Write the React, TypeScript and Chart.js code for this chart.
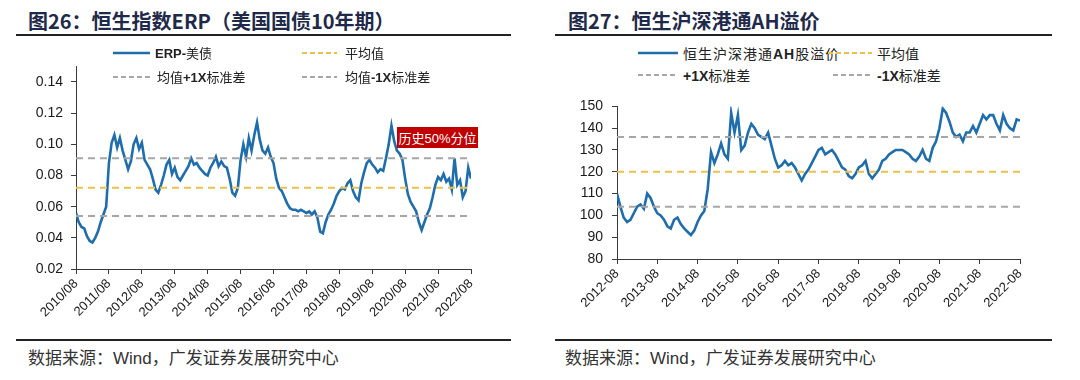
import React, { useEffect, useRef } from 'react';
import { Chart, registerables } from 'chart.js';

Chart.register(...registerables);

// ---------- Chart 26: HSI ERP (vs US 10Y) ----------
const erpTickLabels = [
  '2010/08', '2011/08', '2012/08', '2013/08', '2014/08', '2015/08', '2016/08',
  '2017/08', '2018/08', '2019/08', '2020/08', '2021/08', '2022/08',
];
const erpYTicks = [0.02, 0.04, 0.06, 0.08, 0.1, 0.12, 0.14];
// monthly values from 2010/08 to 2022/08
const erpValues = [
  0.056, 0.050, 0.047, 0.046, 0.041, 0.038, 0.037, 0.040, 0.044, 0.050, 0.055, 0.060,
  0.088, 0.101, 0.106, 0.098, 0.104, 0.096, 0.090, 0.084, 0.089, 0.100, 0.104, 0.097,
  0.101, 0.090, 0.087, 0.084, 0.078, 0.071, 0.069, 0.074, 0.080, 0.087, 0.090, 0.081,
  0.085, 0.079, 0.077, 0.080, 0.083, 0.086, 0.091, 0.087, 0.088, 0.085, 0.083, 0.081,
  0.080, 0.085, 0.088, 0.092, 0.086, 0.089, 0.086, 0.085, 0.078, 0.069, 0.067, 0.072,
  0.090, 0.100, 0.092, 0.104, 0.096, 0.106, 0.114, 0.103, 0.096, 0.094, 0.098, 0.092,
  0.088, 0.078, 0.072, 0.070, 0.066, 0.062, 0.059, 0.058, 0.058, 0.057, 0.058, 0.057,
  0.056, 0.057, 0.055, 0.057, 0.053, 0.044, 0.043, 0.050, 0.055, 0.058, 0.062, 0.067,
  0.070, 0.072, 0.071, 0.075, 0.077, 0.070, 0.066, 0.064, 0.075, 0.082, 0.088, 0.090,
  0.087, 0.085, 0.082, 0.084, 0.083, 0.091, 0.100, 0.112, 0.102, 0.096, 0.094, 0.090,
  0.078, 0.068, 0.063, 0.060, 0.057, 0.050, 0.045, 0.050, 0.055, 0.059, 0.066, 0.074,
  0.079, 0.077, 0.081, 0.076, 0.078, 0.071, 0.091, 0.074, 0.077, 0.066, 0.070, 0.085,
  0.078,
];
const erpMean = 0.0722;
const erpUpper = 0.091;
const erpLower = 0.054;

// ---------- Chart 27: Hang Seng Stock Connect AH premium ----------
const ahTickLabels = [
  '2012-08', '2013-08', '2014-08', '2015-08', '2016-08', '2017-08',
  '2018-08', '2019-08', '2020-08', '2021-08', '2022-08',
];
const ahYTicks = [80, 90, 100, 110, 120, 130, 140, 150];
// monthly values from 2012-08 to 2022-08
const ahValues = [
  110, 104, 99, 97, 98, 101, 104, 105, 103, 110, 108, 104,
  101, 100, 98, 95, 94, 98, 99, 96, 94, 92.5, 91, 93,
  97, 100, 102, 112, 129, 124, 128, 133, 128, 126, 147, 138,
  146, 130, 132, 138, 142, 140, 137, 136, 135, 138, 132, 126,
  122, 123, 125, 123, 124, 122, 119, 116, 119, 121, 124, 127,
  130, 131, 128, 129, 130, 128, 125, 122, 121, 118, 117, 119,
  122, 123, 125, 119, 117, 119, 121, 125, 126, 128, 129, 130,
  130, 130, 129, 128, 126, 125, 127, 130, 126, 125, 131, 134,
  140, 149, 147, 143, 138, 136, 137, 134, 138, 138, 141, 138,
  142, 146, 144, 146, 146, 142, 139, 146, 142, 140, 139, 144,
  143.5,
];
const ahMean = 120;
const ahUpper = 136;
const ahLower = 104;

const BLUE = '#1f6dab';
const YELLOW = '#e8c24c';
const GREY = '#a6a6a6';
const AXIS = '#3a3a3a';
const TICK_COLOR = '#1a1a1a';

type Cfg = {
  values: number[];
  tickLabels: string[];
  yTicks: number[];
  yMin: number;
  yMax: number;
  mean: number;
  upper: number;
  lower: number;
  yFmt: (v: number) => string;
  yWidth: number;
  yFont: number;
  yPad: number;
};

function buildConfig(c: Cfg): any {
  const n = c.values.length - 1;
  const hline = (y: number, color: string) => ({
    data: [
      { x: 0, y },
      { x: n, y },
    ],
    borderColor: color,
    borderWidth: 2,
    borderDash: [7, 5],
    pointRadius: 0,
    order: 0,
  });
  return {
    type: 'line',
    data: {
      datasets: [
        {
          data: c.values.map((v, i) => ({ x: i, y: v })),
          borderColor: BLUE,
          borderWidth: 2.6,
          pointRadius: 0,
          tension: 0,
          order: 5,
        },
        hline(c.upper, GREY),
        hline(c.mean, YELLOW),
        hline(c.lower, GREY),
      ],
    },
    options: {
      responsive: false,
      animation: false,
      layout: { padding: { top: 15, right: 14, left: 0, bottom: 0 } },
      plugins: { legend: { display: false }, tooltip: { enabled: false } },
      scales: {
        x: {
          type: 'linear',
          min: 0,
          max: n,
          afterBuildTicks: (s: any) => {
            s.ticks = c.tickLabels.map((_, k) => ({ value: k * 12 }));
          },
          afterFit: (s: any) => {
            s.height = 60;
          },
          ticks: {
            autoSkip: false,
            maxRotation: 45,
            minRotation: 45,
            padding: 2,
            color: TICK_COLOR,
            font: { family: '"Liberation Sans", Arial, sans-serif', size: 13 },
            callback: (_v: any, i: number) => c.tickLabels[i],
          },
          grid: {
            drawOnChartArea: false,
            drawTicks: true,
            tickLength: 5,
            color: AXIS,
          },
          border: { color: AXIS, width: 1 },
        },
        y: {
          min: c.yMin,
          max: c.yMax,
          afterBuildTicks: (s: any) => {
            s.ticks = c.yTicks.map((v) => ({ value: v }));
          },
          afterFit: (s: any) => {
            s.width = c.yWidth;
          },
          ticks: {
            padding: c.yPad,
            color: TICK_COLOR,
            font: { family: '"Liberation Sans", Arial, sans-serif', size: c.yFont },
            callback: (v: any) => c.yFmt(Number(v)),
          },
          grid: {
            drawOnChartArea: false,
            drawTicks: true,
            tickLength: 5,
            color: AXIS,
          },
          border: { color: AXIS, width: 1 },
        },
      },
    },
  };
}

function ChartCanvas({ cfg, left, top, width, height }: { cfg: Cfg; left: number; top: number; width: number; height: number }) {
  const ref = useRef<HTMLCanvasElement | null>(null);
  useEffect(() => {
    if (!ref.current) return;
    const chart = new Chart(ref.current, buildConfig(cfg));
    return () => chart.destroy();
  }, []);
  return (
    <canvas
      ref={ref}
      width={width}
      height={height}
      style={{ position: 'absolute', left, top, width, height }}
    />
  );
}

function Mixed({ text }: { text: string }) {
  const parts = text.split(/([A-Za-z0-9+\-%]+)/).filter((p) => p.length);
  return (
    <>
      {parts.map((p, i) =>
        /[A-Za-z0-9+\-%]/.test(p) ? (
          <span key={i} style={{ fontFamily: '"Liberation Sans", Arial, sans-serif', fontWeight: 700 }}>
            {p}
          </span>
        ) : (
          <span key={i} style={{ fontFamily: '"Noto Sans CJK SC", sans-serif', fontWeight: 400 }}>
            {p}
          </span>
        )
      )}
    </>
  );
}

function LegendItem({
  x1, x2, y, tx, color, dashed, label, size, spacing,
}: {
  x1: number; x2: number; y: number; tx: number; color: string; dashed: boolean; label: string; size: number; spacing?: number;
}) {
  return (
    <>
      <svg style={{ position: 'absolute', left: x1, top: y - 3, overflow: 'visible' }} width={x2 - x1} height={6}>
        <line
          x1={0}
          y1={3}
          x2={x2 - x1}
          y2={3}
          stroke={color}
          strokeWidth={dashed ? 2 : 2.5}
          strokeDasharray={dashed ? '5 3' : undefined}
        />
      </svg>
      <div
        style={{
          position: 'absolute',
          left: tx,
          top: y - 10,
          height: 20,
          lineHeight: '20px',
          fontSize: size,
          color: '#222',
          whiteSpace: 'nowrap',
          letterSpacing: spacing || 0,
        }}
      >
        <Mixed text={label} />
      </div>
    </>
  );
}

const titleStyle: React.CSSProperties = {
  position: 'absolute',
  top: 8,
  height: 26,
  lineHeight: '26px',
  fontFamily: '"Noto Sans CJK SC", sans-serif',
  fontWeight: 700,
  fontSize: 20,
  color: '#1f2a4a',
  whiteSpace: 'nowrap',
};

const footStyle: React.CSSProperties = {
  position: 'absolute',
  top: 346,
  height: 22,
  lineHeight: '22px',
  fontFamily: '"Noto Sans CJK SC", sans-serif',
  fontSize: 17,
  color: '#333',
  whiteSpace: 'nowrap',
};

export default function App() {
  const erpCfg: Cfg = {
    values: erpValues,
    tickLabels: erpTickLabels,
    yTicks: erpYTicks,
    yMin: 0.02,
    yMax: 0.15,
    mean: erpMean,
    upper: erpUpper,
    lower: erpLower,
    yFmt: (v) => v.toFixed(2),
    yWidth: 66,
    yFont: 14,
    yPad: 8,
  };
  const ahCfg: Cfg = {
    values: ahValues,
    tickLabels: ahTickLabels,
    yTicks: ahYTicks,
    yMin: 80,
    yMax: 150,
    mean: ahMean,
    upper: ahUpper,
    lower: ahLower,
    yFmt: (v) => String(Math.round(v)),
    yWidth: 67,
    yFont: 14,
    yPad: 9,
  };

  return (
    <div style={{ position: 'absolute', left: 0, top: 0, width: 1080, height: 380, background: '#fff', overflow: 'hidden' }}>
      {/* Left panel */}
      <div style={{ ...titleStyle, left: 28 }}>图26：恒生指数ERP（美国国债10年期）</div>
      <div style={{ position: 'absolute', left: 16, top: 34, width: 495, height: 2, background: '#222' }} />
      <ChartCanvas cfg={erpCfg} left={10} top={50} width={475} height={279} />
      <LegendItem x1={113} x2={150} y={53} tx={155} color={BLUE} dashed={false} label="ERP-美债" size={13} />
      <LegendItem x1={302} x2={337} y={53} tx={345} color={YELLOW} dashed label="平均值" size={13} />
      <LegendItem x1={113} x2={150} y={77} tx={157} color={GREY} dashed label="均值+1X标准差" size={13} />
      <LegendItem x1={302} x2={337} y={77} tx={345} color={GREY} dashed label="均值-1X标准差" size={13} />
      <div
        style={{
          position: 'absolute',
          left: 397,
          top: 127,
          width: 81,
          height: 21,
          lineHeight: '21px',
          background: '#c00000',
          color: '#fff',
          fontSize: 13,
          textAlign: 'center',
          whiteSpace: 'nowrap',
        }}
      >
        <span style={{ fontFamily: '"Noto Sans CJK SC", sans-serif' }}>历史</span>
        <span style={{ fontFamily: '"Liberation Sans", Arial, sans-serif' }}>50%</span>
        <span style={{ fontFamily: '"Noto Sans CJK SC", sans-serif' }}>分位</span>
      </div>
      <div style={{ position: 'absolute', left: 16, top: 339, width: 495, height: 2, background: '#222' }} />
      <div style={{ ...footStyle, left: 28 }}>
        数据来源：<span style={{ fontFamily: '"Liberation Sans", Arial, sans-serif' }}>Wind</span>，广发证券发展研究中心
      </div>

      {/* Right panel */}
      <div style={{ ...titleStyle, left: 568 }}>图27：恒生沪深港通AH溢价</div>
      <div style={{ position: 'absolute', left: 555, top: 34, width: 497, height: 2, background: '#222' }} />
      <ChartCanvas cfg={ahCfg} left={550} top={89} width={484} height={230} />
      <LegendItem x1={638} x2={678} y={53} tx={683} color={BLUE} dashed={false} label="恒生沪深港通AH股溢价" size={14} spacing={1} />
      <LegendItem x1={828} x2={872} y={53} tx={877} color={YELLOW} dashed label="平均值" size={14} />
      <LegendItem x1={638} x2={678} y={75} tx={683} color={GREY} dashed label="+1X标准差" size={14} />
      <LegendItem x1={833} x2={873} y={75} tx={877} color={GREY} dashed label="-1X标准差" size={14} />
      <div style={{ position: 'absolute', left: 555, top: 339, width: 497, height: 2, background: '#222' }} />
      <div style={{ ...footStyle, left: 565 }}>
        数据来源：<span style={{ fontFamily: '"Liberation Sans", Arial, sans-serif' }}>Wind</span>，广发证券发展研究中心
      </div>
    </div>
  );
}
